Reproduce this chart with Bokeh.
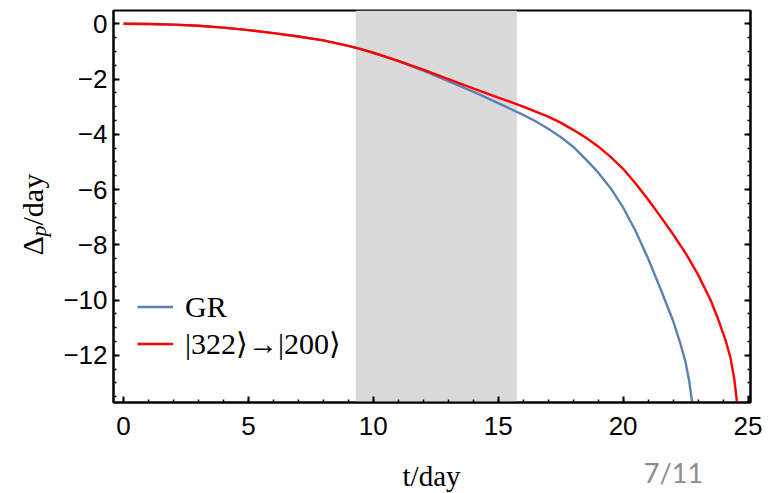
import math
from bokeh.plotting import figure
from bokeh.layouts import row, column
from bokeh.models import (Range1d, FixedTicker, LinearAxis, BoxAnnotation, Label,
                          Legend, LegendItem)
from bokeh.embed import file_html
from bokeh.resources import INLINE

# ---- data ----
t_gr = [0, 1, 2, 3, 4, 5, 6, 7, 8, 9, 9.5, 10, 11, 12, 13, 14, 15, 16, 16.5,
        17, 17.5, 18, 18.5, 19, 19.5, 20, 20.5, 21, 21.5, 22, 22.3, 22.5,
        22.65, 22.8, 22.9]
d_gr = [0, -0.01, -0.03, -0.07, -0.14, -0.23, -0.34, -0.46, -0.6, -0.8, -0.92,
        -1.05, -1.35, -1.7, -2.08, -2.46, -2.87, -3.3, -3.53,
        -3.8, -4.1, -4.45, -4.9, -5.38, -5.95, -6.65, -7.5, -8.5, -9.6,
        -10.75, -11.6, -12.25, -12.95, -13.95, -14.8]

t_322 = [0, 1, 2, 3, 4, 5, 6, 7, 8, 9, 9.5, 10, 11, 12, 13, 14, 15, 16, 17,
         17.5, 18, 18.5, 19, 19.5, 20, 20.5, 21, 21.5, 22, 22.5, 23, 23.5,
         23.8, 24.1, 24.3, 24.45, 24.54, 24.62]
d_322 = [0, -0.01, -0.03, -0.07, -0.14, -0.23, -0.34, -0.46, -0.6, -0.8, -0.92,
         -1.05, -1.34, -1.66, -2.0, -2.34, -2.67, -3.0, -3.36,
         -3.58, -3.84, -4.12, -4.44, -4.82, -5.25, -5.78, -6.36, -6.98, -7.62,
         -8.3, -9.08, -10.0, -10.68, -11.45, -12.1, -12.85, -13.55, -14.3]

shade_start, shade_end = 9.3, 15.75

x_major = [0, 5, 10, 15, 20, 25]
x_minor = list(range(0, 26))
y_major = [-12, -10, -8, -6, -4, -2, 0]
y_minor = [v * 0.5 for v in range(-27, 1)]

label_gr = "GR"
label_322 = "|322\u27e9\u2192|200\u27e9"
x_title = "t/day"
y_title = ["\u0394", "p", "/day"]
page_no = "7/11"

# ---- main plot ----
p = figure(width=711, height=458, output_backend="svg", toolbar_location=None,
           title=None,
           x_range=Range1d(-0.4, 25.1), y_range=Range1d(-13.71, 0.48),
           min_border_left=55, min_border_right=19, min_border_top=10,
           min_border_bottom=56)
p.grid.visible = False
p.outline_line_color = "black"
p.outline_line_width = 2
p.border_fill_color = "white"

for ax in p.xaxis:
    ax.ticker = FixedTicker(ticks=x_major, minor_ticks=x_minor)
for ax in p.yaxis:
    ax.ticker = FixedTicker(ticks=y_major, minor_ticks=y_minor)

def style(ax):
    ax.axis_line_color = "black"
    ax.axis_line_width = 2
    ax.major_tick_in = 6
    ax.major_tick_out = 0
    ax.minor_tick_in = 3
    ax.minor_tick_out = 0
    ax.major_tick_line_color = "black"
    ax.major_tick_line_width = 2
    ax.minor_tick_line_color = "black"
    ax.minor_tick_line_width = 1.5
    ax.major_label_text_font = "Liberation Sans"
    ax.major_label_text_font_size = "26px"
    ax.major_label_text_color = "black"

for ax in p.xaxis + p.yaxis:
    style(ax)
p.xaxis.major_label_standoff = 14
p.yaxis.major_label_standoff = 6

right = LinearAxis(ticker=FixedTicker(ticks=y_major, minor_ticks=y_minor))
style(right)
right.major_label_text_font_size = "0px"
right.major_label_text_color = None
right.major_label_standoff = 0
p.add_layout(right, "right")

shade = BoxAnnotation(left=shade_start, right=shade_end, fill_color="#dadada",
                      fill_alpha=1.0, line_color=None, level="underlay")
p.add_layout(shade)

r_gr = p.line(t_gr, d_gr, line_color="#5E81B5", line_width=2.4)
r_322 = p.line(t_322, d_322, line_color="#FF0000", line_width=2.4)

legend = Legend(items=[LegendItem(label=label_gr, renderers=[r_gr]),
                       LegendItem(label=label_322, renderers=[r_322])],
                location=(24, 40), orientation="vertical")
legend.glyph_width = 36
legend.glyph_height = 37
legend.label_height = 37
legend.label_standoff = 12
legend.spacing = 0
legend.padding = 0
legend.margin = 0
legend.border_line_color = None
legend.background_fill_alpha = 0
legend.label_text_font = "Liberation Serif"
legend.label_text_font_size = "30px"
legend.label_text_color = "black"
p.add_layout(legend, "center")

def blank(w, h):
    f = figure(width=w, height=h, output_backend="svg", toolbar_location=None,
               title=None, x_range=Range1d(0, w), y_range=Range1d(0, h),
               x_axis_type=None, y_axis_type=None, min_border=0)
    f.grid.visible = False
    f.outline_line_color = None
    f.border_fill_color = "white"
    f.background_fill_color = "white"
    return f

# ---- y title panel (left) ----
yf = blank(58, 493)
ang = math.pi / 2
yf.add_layout(Label(x=32, y=238, text=y_title[0], angle=ang,
                    text_font="Liberation Serif", text_font_size="30px",
                    text_align="left", text_baseline="alphabetic", text_color="black"))
yf.add_layout(Label(x=38, y=257, text=y_title[1], angle=ang,
                    text_font="Liberation Serif", text_font_style="italic",
                    text_font_size="22px", text_align="left",
                    text_baseline="alphabetic", text_color="black"))
yf.add_layout(Label(x=32, y=268, text=y_title[2], angle=ang,
                    text_font="Liberation Serif", text_font_size="30px",
                    text_align="left", text_baseline="alphabetic", text_color="black"))

# ---- x title panel (bottom) ----
bf = blank(711, 35)
bf.add_layout(Label(x=355, y=18, text=x_title, text_font="Liberation Serif",
                    text_font_size="29px", text_align="center",
                    text_baseline="alphabetic", text_color="black"))
bf.add_layout(Label(x=625, y=21, text=page_no, text_font="Lato",
                    text_font_size="27px", text_align="center",
                    text_baseline="alphabetic", text_color="#8c8c8c"))

layout = row(yf, column(p, bf, spacing=0), spacing=0)
open("out.html", "w").write(file_html(layout, INLINE))
